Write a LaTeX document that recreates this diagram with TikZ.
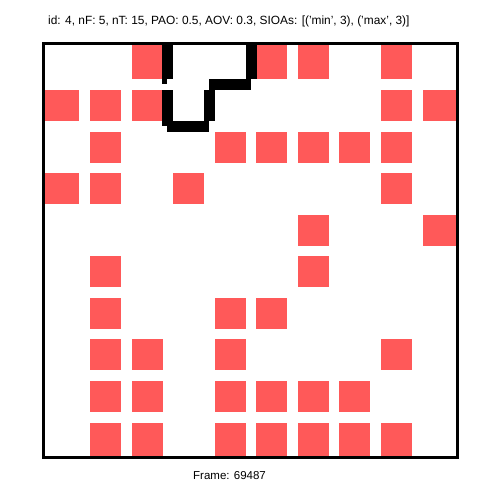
\documentclass[tikz,border=0pt]{standalone}
\usepackage{fontspec}
\setmainfont{Liberation Sans}
\definecolor{cellred}{RGB}{255,89,89}
\newcommand\redcell[2]{%
  \pgfmathsetmacro\xa{#1==0 ? 43.5 : 48.43+41.57*#1}%
  \pgfmathsetmacro\xb{#1==9 ? 457.5 : 79.43+41.57*#1}%
  \pgfmathsetmacro\ya{#2==0 ? 43.5 : 48.43+41.57*#2}%
  \pgfmathsetmacro\yb{#2==9 ? 457.5 : 79.43+41.57*#2}%
  \fill[cellred] (\xa,\ya) rectangle (\xb,\yb);}
\begin{document}
\begin{tikzpicture}[x=1pt,y=-1pt,
  frame/.style={draw=black,line width=3pt},
  trail/.style={fill=black},
  label/.style={inner sep=0pt,anchor=west}]
\useasboundingbox (0,0) rectangle (502,502);
% red cells
\foreach \r/\cols in {0/{2,5,6,8},1/{0,1,2,8,9},2/{1,4,5,6,7,8},3/{0,1,3,8},4/{6,9},5/{1,6},6/{1,4,5},7/{1,2,4,8},8/{1,2,4,5,6,7},9/{1,2,4,5,6,7,8}}{
  \foreach \c in \cols {\redcell{\c}{\r}}
}
% trajectory
\fill[trail] (162,43.5) rectangle (173,79);
\fill[trail] (162,79) rectangle (167,84);
\fill[trail] (162,90) rectangle (173,126);
\fill[trail] (167,121) rectangle (209,132);
\fill[trail] (204,90) rectangle (215,121);
\fill[trail] (209,79) rectangle (251,90);
\fill[trail] (246,43.5) rectangle (257,79);
% frame
\draw[frame] (43.5,43.5) rectangle (457.5,457.5);
% texts
\node[label,font=\fontsize{11.9}{13}\selectfont] (title) at (48,21) {id: 4, nF: 5, nT: 15, PAO: 0.5, AOV: 0.3, SIOAs: [('min', 3), ('max', 3)]};
\node[label,font=\fontsize{11.5}{13}\selectfont] (frameno) at (193,476) {Frame: 69487};
\end{tikzpicture}
\end{document}
